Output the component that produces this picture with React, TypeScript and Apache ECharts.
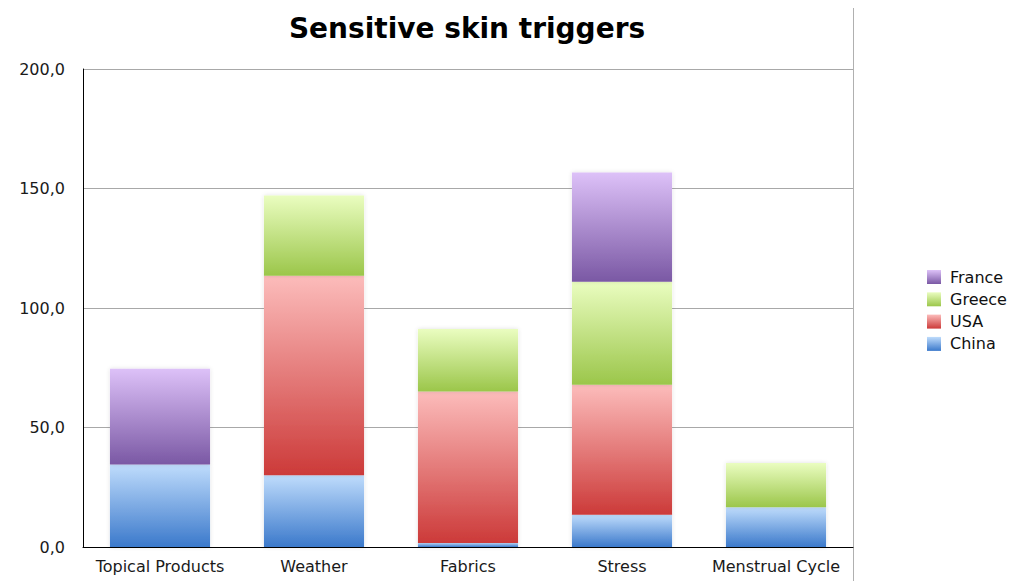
import React, { useEffect, useRef } from "react";
import * as echarts from "echarts";

const categories = ["Topical Products", "Weather", "Fabrics", "Stress", "Menstrual Cycle"];
const china = [34.5, 30, 1.7, 13.5, 16.6];
const usa = [null, 83.5, 63.4, 54.4, null];
const greece = [null, 33.6, 26.1, 43.1, 18.5];
const france = [40.1, null, null, 45.7, null];
const yTicks = { min: 0, max: 200, interval: 50 };
const legendOrder = ["France", "Greece", "USA", "China"];

const FONT = "DejaVu Sans";

function grad(top: string, bottom: string) {
  return new echarts.graphic.LinearGradient(0, 0, 0, 1, [
    { offset: 0, color: top },
    { offset: 1, color: bottom },
  ]);
}

export default function App() {
  const ref = useRef<HTMLDivElement>(null);
  useEffect(() => {
    if (!ref.current) return;
    const chart = echarts.init(ref.current, null, { renderer: "svg" });
    const mk = (name: string, data: any[], top: string, bottom: string) => ({
      name,
      type: "bar",
      stack: "total",
      data,
      barWidth: "65%",
      itemStyle: {
        color: grad(top, bottom),
        shadowBlur: 4,
        shadowColor: "rgba(0,0,0,0.12)",
      },
    });
    chart.setOption({
      animation: false,
      backgroundColor: "#ffffff",
      title: {
        text: "Sensitive skin triggers",
        left: 467,
        textAlign: "center",
        top: 14,
        padding: 0,
        textStyle: { fontFamily: FONT, fontWeight: "bold", fontSize: 28, color: "#000" },
      },
      legend: {
        data: legendOrder,
        orient: "vertical",
        left: 922,
        top: 264,
        itemWidth: 14,
        itemHeight: 14,
        itemGap: 6.3,
        icon: "rect",
        textStyle: { fontFamily: FONT, fontSize: 16, color: "#111", lineHeight: 16, padding: [0, 0, 0, 4] },
      },
      grid: { left: 83, right: 161, top: 69, bottom: 34, containLabel: false },
      xAxis: {
        type: "category",
        data: categories,
        axisLine: { show: true, lineStyle: { color: "#000", width: 1 } },
        axisTick: { show: false },
        axisLabel: { fontFamily: FONT, fontSize: 16, color: "#1a1a1a", margin: 11, interval: 0 },
      },
      yAxis: {
        type: "value",
        min: yTicks.min,
        max: yTicks.max,
        interval: yTicks.interval,
        axisLine: { show: true, lineStyle: { color: "#000", width: 1 } },
        axisTick: { show: false },
        splitLine: { lineStyle: { color: "#a8a8a8", width: 1 } },
        axisLabel: {
          fontFamily: FONT,
          fontSize: 16,
          color: "#1a1a1a",
          margin: 18,
          formatter: (v: number) => v.toFixed(1).replace(".", ","),
        },
      },
      graphic: [
        {
          type: "line",
          shape: { x1: 853.5, y1: 8, x2: 853.5, y2: 581 },
          style: { stroke: "#b0b0b0", lineWidth: 1 },
          silent: true,
        },
      ],
      series: [
        mk("China", china, "#bfdcfc", "#3b79cb"),
        mk("USA", usa, "#fcbcbb", "#cc3a39"),
        mk("Greece", greece, "#eafdc0", "#9bc64a"),
        mk("France", france, "#ddc1f8", "#7a58a4"),
      ],
    });
    return () => chart.dispose();
  }, []);
  return (
    <div
      ref={ref}
      style={{ position: "fixed", left: 0, top: 0, width: 1014, height: 581, background: "#fff" }}
    />
  );
}
